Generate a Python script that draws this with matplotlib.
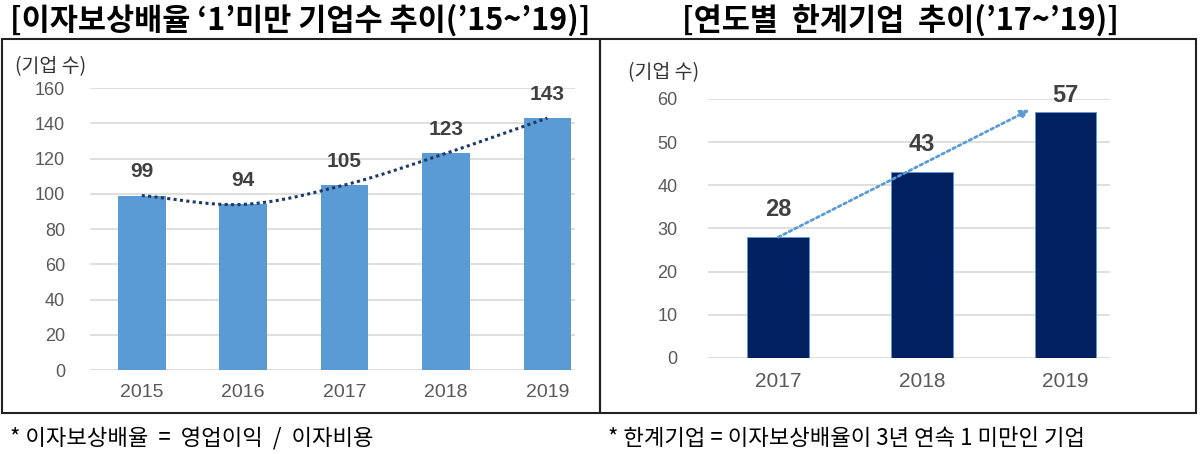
import numpy as np
import matplotlib
matplotlib.use("Agg")
import matplotlib.pyplot as plt
from matplotlib.patches import Rectangle

plt.rcParams['font.family'] = ['Liberation Sans', 'Noto Sans CJK KR', 'DejaVu Sans']

# left chart: companies with interest coverage ratio < 1
years_left = ['2015', '2016', '2017', '2018', '2019']
counts_left = [99, 94, 105, 123, 143]
# right chart: marginal (zombie) companies
years_right = ['2017', '2018', '2019']
counts_right = [28, 43, 57]

title_left = "[이자보상배율 ‘1’미만 기업수 추이(’15~’19)]"
title_right = "[연도별  한계기업  추이(’17~’19)]"
note_left = "* 이자보상배율  =  영업이익  /  이자비용"
note_right = "* 한계기업 = 이자보상배율이 3년 연속 1 미만인 기업"
unit = "(기업 수)"

light_blue = '#5B9BD5'
navy = '#002060'
grid_c = '#D9D9D9'
tick_c = '#595959'
lab_c = '#404040'
kr = ['Noto Sans CJK KR', 'DejaVu Sans']


def smooth(xs, ys, n=30):
    # catmull-rom curve through the points, like excel's smoothed line
    xs = np.asarray(xs, float)
    ys = np.asarray(ys, float)
    px = np.concatenate([[2 * xs[0] - xs[1]], xs, [2 * xs[-1] - xs[-2]]])
    py = np.concatenate([[2 * ys[0] - ys[1]], ys, [2 * ys[-1] - ys[-2]]])
    outx, outy = [], []
    t = np.linspace(0, 1, n)
    for i in range(1, len(px) - 2):
        for p, out in ((px, outx), (py, outy)):
            p0, p1, p2, p3 = p[i - 1], p[i], p[i + 1], p[i + 2]
            out.extend(0.5 * (2 * p1 + (-p0 + p2) * t + (2 * p0 - 5 * p1 + 4 * p2 - p3) * t ** 2
                              + (-p0 + 3 * p1 - 3 * p2 + p3) * t ** 3))
    return outx, outy


fig = plt.figure(figsize=(12, 4.54), dpi=100)

# boxes
fig.add_artist(Rectangle((0.002, 0.09), 0.498, 0.825, transform=fig.transFigure,
                         fill=False, ec='#222222', lw=1.5))
fig.add_artist(Rectangle((0.500, 0.09), 0.497, 0.825, transform=fig.transFigure,
                         fill=False, ec='#222222', lw=1.5))

fig.text(0.25, 0.955, title_left, ha='center', va='center', fontsize=22, family=kr, weight='bold')
fig.text(0.75, 0.955, title_right, ha='center', va='center', fontsize=22, family=kr, weight='bold')
fig.text(0.008, 0.035, note_left, ha='left', va='center', fontsize=16, family=kr)
fig.text(0.507, 0.035, note_right, ha='left', va='center', fontsize=16, family=kr)

# left chart
ax1 = fig.add_axes([0.075, 0.185, 0.404, 0.621])
x1 = np.arange(len(years_left))
ax1.bar(x1, counts_left, width=0.47, color=light_blue, zorder=2)
sx, sy = smooth(x1, counts_left)
ax1.plot(sx, sy, color='#203864', lw=2.2, ls=(0, (1, 1.1)), zorder=3)
for xi, v in zip(x1, counts_left):
    ax1.text(xi, v + 13.5, str(v), ha='center', va='center', fontsize=15, weight='bold', color=lab_c)
ax1.set_ylim(0, 160)
ax1.set_yticks(range(0, 161, 20))
ax1.set_xlim(-0.51, 4.27)
ax1.set_xticks(x1)
ax1.set_xticklabels(years_left)
ax1.text(-0.155, 1.075, unit, transform=ax1.transAxes, fontsize=14, family=kr, color='#333333', va='center')

# right chart
ax2 = fig.add_axes([0.59, 0.2115, 0.335, 0.5705])
x2 = np.arange(len(years_right))
ax2.bar(x2, counts_right, width=0.43, color=navy, ec='#5B9BD5', lw=0.6, zorder=2)
ax2.annotate('', xy=(x2[-1] - 0.25, counts_right[-1] + 0.5), xytext=(x2[0], counts_right[0]),
             arrowprops=dict(arrowstyle='-|>', color=light_blue, lw=2, ls=(0, (1, 1.2)),
                             mutation_scale=13, shrinkA=0, shrinkB=0), zorder=3)
for xi, v in zip(x2, counts_right):
    # labels are kept inside the plot area, like excel does
    ax2.text(xi, min(v + 6.5, 60.7), str(v), ha='center', va='center', fontsize=17,
             weight='bold', color=lab_c)
ax2.set_ylim(0, 60)
ax2.set_yticks(range(0, 61, 10))
ax2.set_xlim(-0.49, 2.31)
ax2.set_xticks(x2)
ax2.set_xticklabels(years_right)
ax2.text(-0.2, 1.1, unit, transform=ax2.transAxes, fontsize=14, family=kr, color='#333333', va='center')

for ax, fx, py in ((ax1, 14, 18), (ax2, 15, 22)):
    for s in ax.spines.values():
        s.set_visible(False)
    ax.yaxis.grid(True, color=grid_c, lw=1.2, zorder=0)
    ax.set_axisbelow(True)
    ax.tick_params(length=0, colors=tick_c)
    ax.tick_params(axis='x', labelsize=fx, pad=10)
    ax.tick_params(axis='y', labelsize=13, pad=py)

fig.savefig('out.png', dpi=100, facecolor='white')
